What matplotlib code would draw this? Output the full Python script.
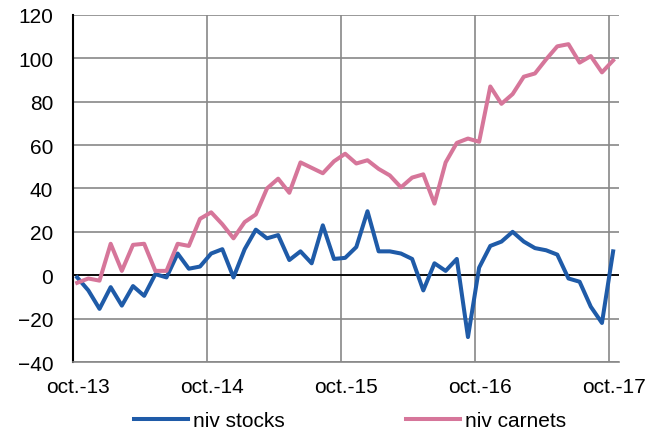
import numpy as np
from matplotlib import pyplot as plt

plt.rcParams['font.family'] = ['Liberation Sans', 'DejaVu Sans']

# monthly data, oct. 2013 -> oct. 2017
months = np.arange(49)
stocks = [-1, -7, -15.5, -5.5, -14, -5, -9.5, 0.5, -1, 10,
          3, 4, 10, 12, -1, 12, 21, 17, 18.5, 7,
          11, 5.5, 23, 7.5, 8, 13, 29.5, 11, 11, 10,
          7.5, -7, 5.5, 2, 7.5, -28.5, 3.5, 13.5, 15.5, 20,
          15.5, 12.5, 11.5, 9.5, -1.5, -3, -14.5, -22, 11]
carnets = [-3.5, -1.5, -2.5, 14.5, 2, 14, 14.5, 2, 2, 14.5,
           13.5, 26, 29, 23.5, 17, 24.5, 28, 40, 44.5, 38,
           52, 49.5, 47, 52.5, 56, 51.5, 53, 49, 46, 40.5,
           45, 46.5, 33, 52, 61, 63, 61.5, 87, 79, 83.5,
           91.5, 93, 99.5, 105.5, 106.5, 98, 101, 93.5, 99]
tick_pos = [0, 12, 24, 36, 48]
tick_labels = ['oct.-13', 'oct.-14', 'oct.-15', 'oct.-16', 'oct.-17']

fig = plt.figure(figsize=(6.61, 4.35), dpi=100)
ax = fig.add_axes([0.110, 0.1655, 0.826, 0.798])

x = months + 0.4
ax.plot(x, stocks, color='#1F5BA8', lw=2.9, label='niv stocks', zorder=3)
ax.plot(x, carnets, color='#D6769A', lw=2.9, label='niv carnets', zorder=3)
ax.axhline(0, color='black', lw=1.3, zorder=2)

ax.set_xlim(0, 48.9)
ax.set_ylim(-40, 120)
ax.set_yticks(np.arange(-40, 121, 20))
ax.set_xticks(tick_pos)
ax.set_xticklabels([])
ax.set_xticks([p + 0.5 for p in tick_pos], minor=True)
ax.set_xticklabels(tick_labels, minor=True)
ax.grid(True, color='#888888', lw=1.2, zorder=1)
ax.tick_params(axis='both', which='both', length=0, labelsize=15)
ax.tick_params(axis='y', pad=14)
ax.tick_params(axis='x', which='minor', pad=11)

for s in ['top', 'right']:
    ax.spines[s].set_visible(False)
ax.spines['bottom'].set_color('#888888')
ax.spines['bottom'].set_linewidth(1.2)
ax.spines['left'].set_color('black')
ax.spines['left'].set_linewidth(1.5)

fig.legend(loc='center', bbox_to_anchor=(0.53, 0.03), ncol=2, frameon=False,
           fontsize=15, handlelength=2.6, handletextpad=0.25, columnspacing=5.8)

fig.savefig('out.png', dpi=100)
